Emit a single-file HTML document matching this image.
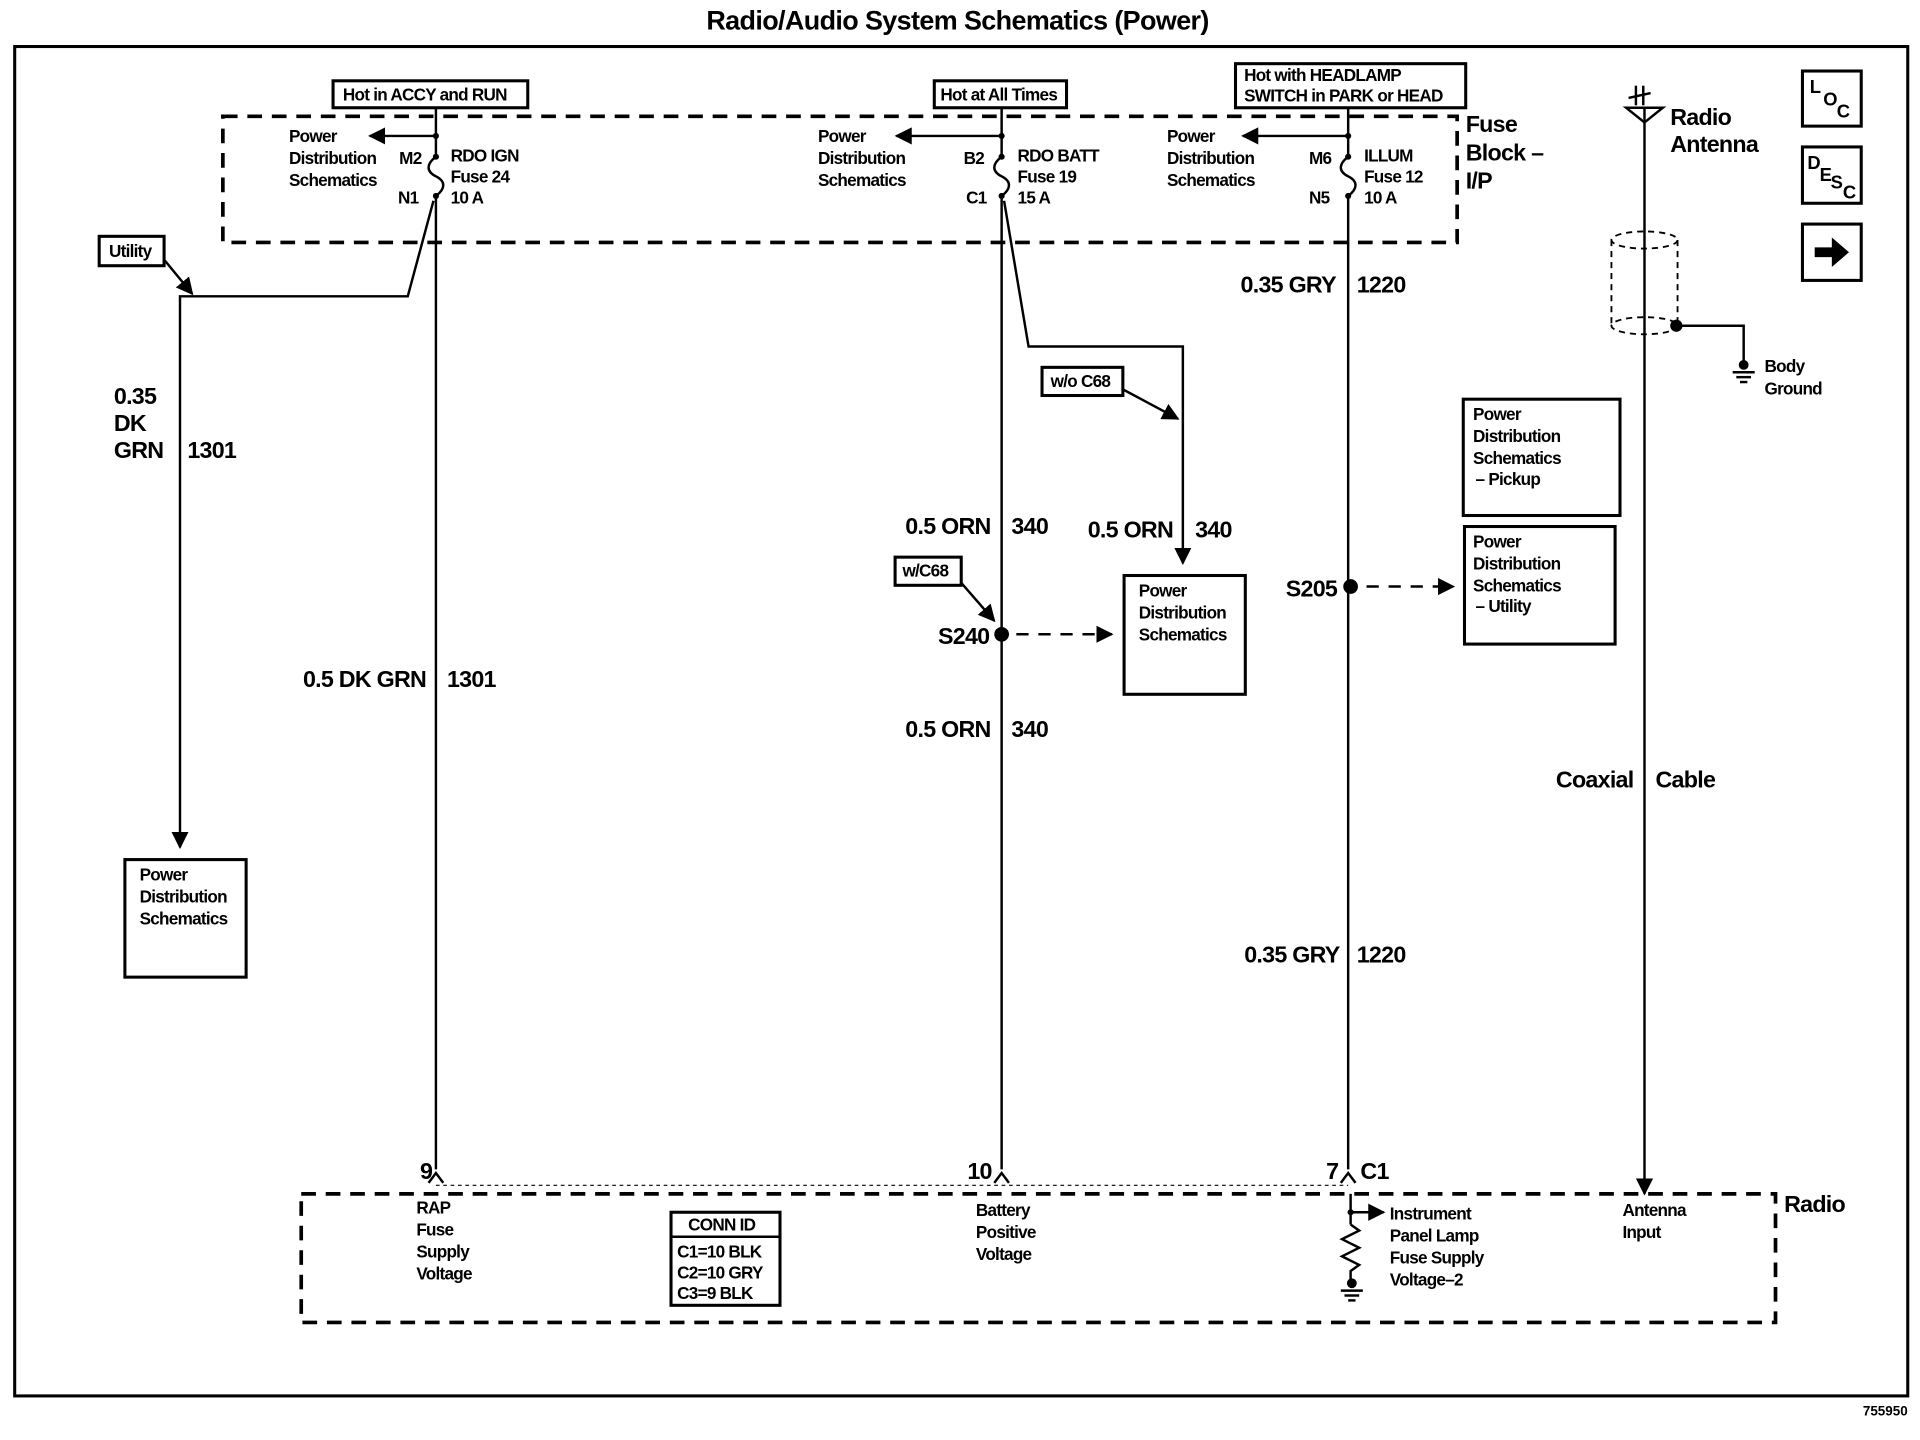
<!DOCTYPE html>
<html><head><meta charset="utf-8"><style>
html,body{margin:0;padding:0;background:#fff;}
svg{display:block;}
text{font-family:"Liberation Sans",sans-serif;font-weight:bold;fill:#000;}
.s{font-size:14px;letter-spacing:-0.6px;}
.m{font-size:19px;letter-spacing:-0.6px;}
.w{stroke:#000;stroke-width:2;fill:none;}
.d{stroke:#000;stroke-width:3;fill:none;stroke-dasharray:12,8;}
.b{stroke:#000;stroke-width:2.5;fill:#fff;}
</style></head><body>
<svg width="1920" height="1440" viewBox="0 0 1568 1176" xmlns="http://www.w3.org/2000/svg">
<defs>
<marker id="a" viewBox="0 0 10 10" refX="9" refY="5" markerWidth="7" markerHeight="7" orient="auto-start-reverse"><path d="M0,0 L10,5 L0,10 z" fill="#000"/></marker>
</defs>
<text x="782" y="24" font-size="22" text-anchor="middle" letter-spacing="-0.5">Radio/Audio System Schematics (Power)</text>
<rect x="12" y="38" width="1546" height="1102" fill="none" stroke="#000" stroke-width="2.5"/>
<text x="1558" y="1156" font-size="11" text-anchor="end">755950</text>

<!-- fuse block -->
<rect x="182" y="95" width="1008" height="103" class="d"/>
<text class="m" x="1197" y="108">Fuse</text><text class="m" x="1197" y="131">Block –</text><text class="m" x="1197" y="154">I/P</text>

<rect x="272" y="66" width="159" height="22" class="b"/><text class="s" x="280" y="82">Hot in ACCY and RUN</text>
<rect x="763" y="66" width="108" height="22" class="b"/><text class="s" x="768" y="82">Hot at All Times</text>
<rect x="1009" y="52" width="188" height="36" class="b"/><text class="s" x="1016" y="66">Hot with HEADLAMP</text><text class="s" x="1016" y="83">SWITCH in PARK or HEAD</text>

<!-- wire 1 -->
<line x1="356" y1="88" x2="356" y2="128" class="w"/>
<path d="M356,128 c-8,6 -8,12 0,16 c8,4 8,10 0,16" class="w"/>
<line x1="356" y1="160" x2="356" y2="955" class="w"/>
<line x1="356" y1="111" x2="302" y2="111" class="w" marker-end="url(#a)"/>
<circle cx="356" cy="111" r="2.5"/><circle cx="356" cy="128" r="2.5"/><circle cx="356" cy="160" r="2.5"/>
<text class="s" x="236" y="116">Power</text><text class="s" x="236" y="134">Distribution</text><text class="s" x="236" y="152">Schematics</text>
<text class="s" x="326" y="134">M2</text><text class="s" x="325" y="166">N1</text>
<text class="s" x="368" y="132">RDO IGN</text><text class="s" x="368" y="149">Fuse 24</text><text class="s" x="368" y="166">10 A</text>
<path d="M354,164 L333,242 L147,242 L147,692" class="w" marker-end="url(#a)"/>
<rect x="81" y="193" width="53" height="24" class="b"/><text class="s" x="89" y="210">Utility</text>
<line x1="134" y1="212" x2="157" y2="240" class="w" marker-end="url(#a)"/>
<text class="m" x="93" y="330">0.35</text><text class="m" x="93" y="352">DK</text><text class="m" x="93" y="374">GRN</text><text class="m" x="153" y="374">1301</text>
<rect x="102" y="702" width="99" height="96" class="b"/>
<text class="s" x="114" y="719">Power</text><text class="s" x="114" y="737">Distribution</text><text class="s" x="114" y="755">Schematics</text>
<text class="m" x="348" y="561" text-anchor="end">0.5 DK GRN</text><text class="m" x="365" y="561">1301</text>

<!-- wire 2 -->
<line x1="818" y1="88" x2="818" y2="128" class="w"/>
<path d="M818,128 c-8,6 -8,12 0,16 c8,4 8,10 0,16" class="w"/>
<line x1="818" y1="160" x2="818" y2="955" class="w"/>
<line x1="818" y1="111" x2="732" y2="111" class="w" marker-end="url(#a)"/>
<circle cx="818" cy="111" r="2.5"/><circle cx="818" cy="128" r="2.5"/><circle cx="818" cy="160" r="2.5"/>
<text class="s" x="668" y="116">Power</text><text class="s" x="668" y="134">Distribution</text><text class="s" x="668" y="152">Schematics</text>
<text class="s" x="787" y="134">B2</text><text class="s" x="789" y="166">C1</text>
<text class="s" x="831" y="132">RDO BATT</text><text class="s" x="831" y="149">Fuse 19</text><text class="s" x="831" y="166">15 A</text>
<path d="M820,164 L840,283 L966,283 L966,460" class="w" marker-end="url(#a)"/>
<rect x="851" y="300" width="66" height="23" class="b"/><text class="s" x="858" y="316">w/o C68</text>
<line x1="917" y1="318" x2="962" y2="342" class="w" marker-end="url(#a)"/>
<text class="m" x="809" y="436" text-anchor="end">0.5 ORN</text><text class="m" x="826" y="436">340</text>
<text class="m" x="958" y="439" text-anchor="end">0.5 ORN</text><text class="m" x="976" y="439">340</text>
<rect x="918" y="470" width="99" height="97" class="b"/>
<text class="s" x="930" y="487">Power</text><text class="s" x="930" y="505">Distribution</text><text class="s" x="930" y="523">Schematics</text>
<rect x="731" y="455" width="54" height="23" class="b"/><text class="s" x="737" y="471">w/C68</text>
<line x1="785" y1="476" x2="812" y2="507" class="w" marker-end="url(#a)"/>
<circle cx="818" cy="518" r="6"/>
<text class="m" x="808" y="526" text-anchor="end">S240</text>
<line x1="830" y1="518" x2="908" y2="518" class="w" stroke-dasharray="10,8" marker-end="url(#a)"/>
<text class="m" x="809" y="602" text-anchor="end">0.5 ORN</text><text class="m" x="826" y="602">340</text>

<!-- wire 3 -->
<line x1="1101" y1="88" x2="1101" y2="128" class="w"/>
<path d="M1101,128 c-8,6 -8,12 0,16 c8,4 8,10 0,16" class="w"/>
<line x1="1101" y1="160" x2="1101" y2="955" class="w"/>
<line x1="1101" y1="111" x2="1015" y2="111" class="w" marker-end="url(#a)"/>
<circle cx="1101" cy="111" r="2.5"/><circle cx="1101" cy="128" r="2.5"/><circle cx="1101" cy="160" r="2.5"/>
<text class="s" x="953" y="116">Power</text><text class="s" x="953" y="134">Distribution</text><text class="s" x="953" y="152">Schematics</text>
<text class="s" x="1069" y="134">M6</text><text class="s" x="1069" y="166">N5</text>
<text class="s" x="1114" y="132">ILLUM</text><text class="s" x="1114" y="149">Fuse 12</text><text class="s" x="1114" y="166">10 A</text>
<text class="m" x="1091" y="239" text-anchor="end">0.35 GRY</text><text class="m" x="1108" y="239">1220</text>
<circle cx="1103" cy="479" r="6"/>
<text class="m" x="1092" y="487" text-anchor="end">S205</text>
<line x1="1116" y1="479" x2="1187" y2="479" class="w" stroke-dasharray="10,8" marker-end="url(#a)"/>
<rect x="1195" y="326" width="128" height="95" class="b"/>
<text class="s" x="1203" y="343">Power</text><text class="s" x="1203" y="361">Distribution</text><text class="s" x="1203" y="379">Schematics</text><text class="s" x="1205" y="396">– Pickup</text>
<rect x="1196" y="430" width="123" height="96" class="b"/>
<text class="s" x="1203" y="447">Power</text><text class="s" x="1203" y="465">Distribution</text><text class="s" x="1203" y="483">Schematics</text><text class="s" x="1205" y="500">– Utility</text>
<text class="m" x="1094" y="786" text-anchor="end">0.35 GRY</text><text class="m" x="1108" y="786">1220</text>

<!-- antenna -->
<line x1="1343" y1="88" x2="1343" y2="975" class="w" marker-end="url(#a)"/>
<path d="M1328,88 L1358,88 L1343,100 z" class="w"/>
<line x1="1336" y1="70" x2="1336" y2="86" class="w"/><line x1="1342" y1="70" x2="1342" y2="86" class="w"/>
<line x1="1330" y1="80" x2="1348" y2="76" class="w"/>
<text class="m" x="1364" y="102">Radio</text><text class="m" x="1364" y="124">Antenna</text>
<ellipse cx="1343" cy="196" rx="27" ry="7" fill="none" stroke="#000" stroke-width="1.5" stroke-dasharray="5,4"/>
<ellipse cx="1343" cy="266" rx="27" ry="7" fill="none" stroke="#000" stroke-width="1.5" stroke-dasharray="5,4"/>
<line x1="1316" y1="196" x2="1316" y2="266" stroke="#000" stroke-width="1.5" stroke-dasharray="5,4"/>
<line x1="1370" y1="196" x2="1370" y2="266" stroke="#000" stroke-width="1.5" stroke-dasharray="5,4"/>
<circle cx="1369" cy="266" r="5"/>
<path d="M1369,266 L1424,266 L1424,296" class="w"/>
<circle cx="1424" cy="298" r="4"/>
<line x1="1415" y1="304" x2="1433" y2="304" class="w"/><line x1="1418" y1="308" x2="1430" y2="308" class="w"/><line x1="1421" y1="312" x2="1427" y2="312" class="w"/>
<text class="s" x="1441" y="304">Body</text><text class="s" x="1441" y="322">Ground</text>
<text class="m" x="1334" y="643" text-anchor="end">Coaxial</text><text class="m" x="1352" y="643">Cable</text>

<!-- icons -->
<rect x="1472" y="58" width="48" height="45" class="b"/>
<text font-size="15" x="1478" y="76">L</text><text font-size="15" x="1489" y="86">O</text><text font-size="15" x="1500" y="96">C</text>
<rect x="1472" y="120" width="48" height="46" class="b"/>
<text font-size="15" x="1476" y="138">D</text><text font-size="15" x="1486" y="148">E</text><text font-size="15" x="1495" y="154">S</text><text font-size="15" x="1505" y="162">C</text>
<rect x="1472" y="183" width="48" height="46" class="b"/>
<path d="M1482,202 L1496,202 L1496,194 L1510,206 L1496,218 L1496,210 L1482,210 z" fill="#000"/>

<!-- radio -->
<rect x="246" y="975" width="1204" height="105" class="d"/>
<text class="m" x="1457" y="990">Radio</text>
<path d="M350,966 L356,958 L362,966 M812,966 L818,958 L824,966 M1095,966 L1101,958 L1107,966" class="w"/>
<line x1="356" y1="968" x2="1101" y2="968" stroke="#000" stroke-width="1" stroke-dasharray="3,3"/>
<text class="m" x="343" y="963">9</text><text class="m" x="790" y="963">10</text><text class="m" x="1083" y="963">7</text><text class="m" x="1111" y="963">C1</text>
<text class="s" x="340" y="991">RAP</text><text class="s" x="340" y="1009">Fuse</text><text class="s" x="340" y="1027">Supply</text><text class="s" x="340" y="1045">Voltage</text>
<rect x="548" y="990" width="89" height="76" class="b"/>
<line x1="548" y1="1010" x2="637" y2="1010" stroke="#000" stroke-width="2"/>
<text class="s" x="562" y="1005">CONN ID</text>
<text class="s" x="553" y="1027">C1=10 BLK</text><text class="s" x="553" y="1044">C2=10 GRY</text><text class="s" x="553" y="1061">C3=9 BLK</text>
<text class="s" x="797" y="993">Battery</text><text class="s" x="797" y="1011">Positive</text><text class="s" x="797" y="1029">Voltage</text>
<line x1="1103" y1="975" x2="1103" y2="1000" class="w"/>
<circle cx="1103" cy="990" r="2.5"/>
<line x1="1103" y1="990" x2="1130" y2="990" class="w" marker-end="url(#a)"/>
<path d="M1103,1000 l7,5 l-14,7 l14,7 l-14,7 l14,7 l-7,5 L1103,1045" class="w"/>
<circle cx="1104" cy="1048" r="4"/>
<line x1="1095" y1="1054" x2="1113" y2="1054" class="w"/><line x1="1098" y1="1058" x2="1110" y2="1058" class="w"/><line x1="1101" y1="1062" x2="1107" y2="1062" class="w"/>
<text class="s" x="1135" y="996">Instrument</text><text class="s" x="1135" y="1014">Panel Lamp</text><text class="s" x="1135" y="1032">Fuse Supply</text><text class="s" x="1135" y="1050">Voltage–2</text>
<text class="s" x="1325" y="993">Antenna</text><text class="s" x="1325" y="1011">Input</text>
</svg>
</body></html>
